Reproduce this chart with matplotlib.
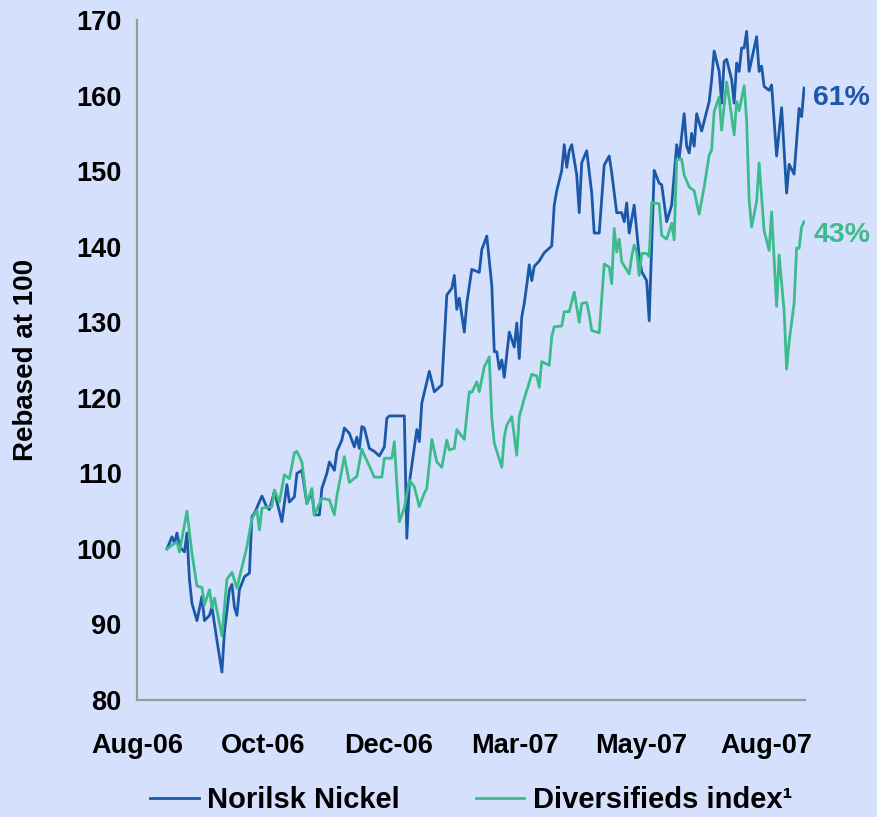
import numpy as np
import matplotlib
matplotlib.use("Agg")
import matplotlib.pyplot as plt

plt.rcParams['font.family'] = ['Liberation Sans', 'DejaVu Sans']
plt.rcParams['font.weight'] = 'bold'

# trading-day index (0 = start, rebased at 100) and rebased values
nn_days = [0, 2, 3, 4, 5, 7, 8, 9, 10, 12, 14, 15, 17, 18, 20, 22, 23, 25, 26, 27,
           28, 29, 31, 33, 34, 35, 38, 40, 41, 43, 46, 48, 49, 51, 52, 54, 56, 58, 59, 61,
           62, 64, 65, 67, 68, 70, 71, 73, 75, 76, 77, 78, 79, 81, 83, 85, 87, 88, 89, 95,
           96, 97, 100, 101, 102, 105, 107, 110, 112, 114, 115, 116, 117, 119, 120, 122, 125, 126, 128, 130,
           131, 132, 133, 134, 135, 137, 139, 140, 141, 142, 143, 144, 145, 146, 147, 149, 151, 154, 155, 156,
           158, 159, 160, 161, 162, 164, 165, 166, 168, 170, 171, 173, 175, 177, 178, 180, 182, 183, 184, 185,
           187, 189, 190, 192, 193, 195, 197, 198, 200, 202, 204, 205, 207, 208, 209, 210, 211, 212, 214, 217,
           218, 219, 221, 222, 223, 224, 226, 227, 228, 229, 230, 231, 232, 233, 236, 237, 238, 239, 241, 242,
           244, 246, 248, 249, 251, 252, 253, 254, 255]
nn_vals = [100.0, 101.6, 100.8, 102.1, 100.3, 99.6, 102.1, 95.9, 92.8, 90.5, 93.7, 90.5, 91.2, 92.3, 87.9, 83.7, 89.0, 94.6, 95.3, 92.3,
           91.2, 94.6, 96.3, 96.8, 104.3, 104.7, 107.0, 105.5, 105.2, 107.6, 103.6, 108.5, 106.2, 106.9, 110.0, 110.4, 106.0, 107.6, 104.5, 104.5,
           108.0, 110.0, 111.5, 110.4, 112.9, 114.4, 116.0, 115.3, 113.5, 114.8, 113.3, 116.2, 116.0, 113.3, 112.9, 112.3, 113.5, 117.3, 117.6, 117.6,
           101.4, 108.7, 115.8, 114.2, 119.3, 123.5, 120.8, 121.7, 133.6, 134.5, 136.2, 131.7, 133.2, 128.7, 132.5, 137.0, 136.6, 139.6, 141.4, 134.9,
           126.1, 126.1, 123.8, 125.0, 122.7, 128.7, 126.7, 129.9, 125.2, 130.7, 132.5, 134.9, 137.6, 135.5, 137.4, 138.1, 139.2, 140.1, 145.5, 147.4,
           150.1, 153.5, 150.5, 152.7, 153.5, 149.5, 144.5, 151.1, 152.7, 147.1, 141.8, 141.8, 150.8, 152.0, 149.8, 144.5, 144.5, 143.3, 145.8, 141.8,
           145.5, 138.7, 136.7, 135.5, 130.2, 150.1, 148.4, 148.2, 143.3, 145.5, 153.5, 151.7, 157.6, 153.3, 152.4, 155.0, 153.3, 157.6, 155.3, 159.2,
           162.1, 165.9, 163.2, 159.0, 164.5, 164.8, 162.1, 159.0, 164.3, 163.2, 166.3, 166.3, 168.5, 163.2, 167.8, 163.2, 163.9, 161.2, 160.7, 161.4,
           152.0, 158.4, 147.1, 150.9, 149.6, 153.9, 158.3, 157.2, 161.0]

div_days = [0, 2, 4, 5, 8, 10, 12, 14, 15, 17, 18, 19, 22, 24, 26, 28, 29, 32, 34, 36,
            37, 38, 42, 43, 45, 47, 49, 51, 52, 54, 56, 58, 59, 62, 65, 67, 68, 71, 73, 76,
            78, 79, 83, 86, 87, 90, 91, 92, 93, 95, 97, 99, 101, 103, 104, 106, 108, 110, 112, 113,
            115, 116, 119, 121, 122, 124, 125, 127, 129, 130, 131, 134, 135, 136, 138, 140, 141, 143, 146, 148,
            149, 150, 153, 154, 155, 158, 159, 161, 163, 165, 166, 168, 169, 170, 173, 175, 177, 178, 179, 180,
            181, 182, 185, 186, 187, 188, 189, 190, 192, 193, 194, 197, 198, 200, 202, 203, 204, 206, 207, 209,
            211, 213, 215, 217, 218, 219, 221, 222, 224, 225, 227, 228, 229, 231, 232, 233, 234, 236, 237, 238,
            239, 241, 242, 244, 245, 247, 248, 249, 251, 252, 253, 254, 255]
div_vals = [100.0, 100.5, 100.9, 99.6, 105.0, 99.4, 95.1, 94.9, 92.6, 94.6, 92.2, 93.5, 88.5, 96.0, 96.9, 94.8, 96.2, 100.3, 104.0, 105.1,
            102.5, 105.4, 105.6, 107.8, 106.2, 109.8, 109.3, 112.7, 112.9, 111.5, 106.0, 108.0, 104.5, 106.7, 106.5, 104.5, 107.0, 112.2, 108.8, 109.6,
            113.2, 112.4, 109.5, 109.5, 112.0, 112.0, 114.2, 108.7, 103.6, 105.4, 109.1, 108.2, 105.6, 107.4, 108.0, 114.5, 111.5, 110.8, 114.4, 113.1,
            113.3, 115.8, 114.5, 120.8, 120.7, 122.1, 120.8, 124.1, 125.4, 117.3, 114.0, 110.8, 114.8, 116.4, 117.5, 112.4, 117.5, 119.9, 123.1, 122.9,
            121.4, 124.8, 124.3, 128.1, 129.4, 129.5, 131.4, 131.4, 134.0, 130.0, 132.5, 132.6, 131.0, 128.9, 128.6, 137.7, 137.3, 135.1, 142.4, 139.3,
            141.0, 138.0, 136.4, 138.7, 140.2, 139.3, 136.2, 139.1, 139.1, 138.7, 145.8, 145.7, 141.5, 141.0, 143.1, 140.9, 151.5, 151.6, 149.5, 147.9,
            147.4, 144.3, 147.9, 152.1, 152.8, 157.9, 159.8, 155.4, 161.8, 159.6, 154.8, 159.2, 158.0, 161.3, 156.8, 146.2, 142.6, 146.0, 151.1, 146.6,
            142.1, 139.5, 144.6, 132.1, 138.9, 131.5, 123.8, 127.4, 132.5, 139.8, 139.8, 142.6, 143.3]

tick_labels = ['Aug-06', 'Oct-06', 'Dec-06', 'Mar-07', 'May-07', 'Aug-07']
end_labels = ['61%', '43%']

bg = '#d5e0fc'
blue = '#1c58a8'
green = '#3dbb8c'

fig = plt.figure(figsize=(8.77, 8.17), dpi=100, facecolor=bg)
ax = fig.add_axes([0.1562, 0.1432, 0.7621, 0.8323], facecolor=bg)

ax.plot(nn_days, nn_vals, color=blue, lw=2.0, label='Norilsk Nickel')
ax.plot(div_days, div_vals, color=green, lw=2.0, label='Diversifieds index\u00b9')

# end-of-series labels
ax.annotate(end_labels[0], xy=(nn_days[-1], nn_vals[-1]), xytext=(6.5, -7),
            textcoords='offset points', color=blue, fontsize=20.5,
            fontweight='bold', ha='left', va='center')
ax.annotate(end_labels[1], xy=(div_days[-1], div_vals[-1]), xytext=(6.5, -9.5),
            textcoords='offset points', color=green, fontsize=20.5,
            fontweight='bold', ha='left', va='center')

ax.set_xlim(-12, 255.5)
ax.set_ylim(80, 170)
ax.set_yticks(np.arange(80, 171, 10))
ax.set_xticks(-12 + 50.4 * np.arange(len(tick_labels)))
ax.set_xticklabels(tick_labels)

ax.tick_params(axis='y', length=0, pad=11, labelsize=19.5)
ax.tick_params(axis='x', length=0, pad=24, labelsize=19.5)
for lab in ax.get_xticklabels() + ax.get_yticklabels():
    lab.set_fontweight('bold')

ax.set_ylabel('Rebased at 100', fontsize=20, fontweight='bold', labelpad=27)

for side in ['top', 'right']:
    ax.spines[side].set_visible(False)
for side in ['left', 'bottom']:
    ax.spines[side].set_color('#999999')
    ax.spines[side].set_linewidth(1.6)

ax.legend(loc='center', bbox_to_anchor=(0.5, -0.147), ncol=2, frameon=False,
          prop={'size': 21, 'weight': 'bold'}, handlelength=1.65,
          handletextpad=0.3, columnspacing=2.6)

fig.savefig('out.png', dpi=100, facecolor=bg)
